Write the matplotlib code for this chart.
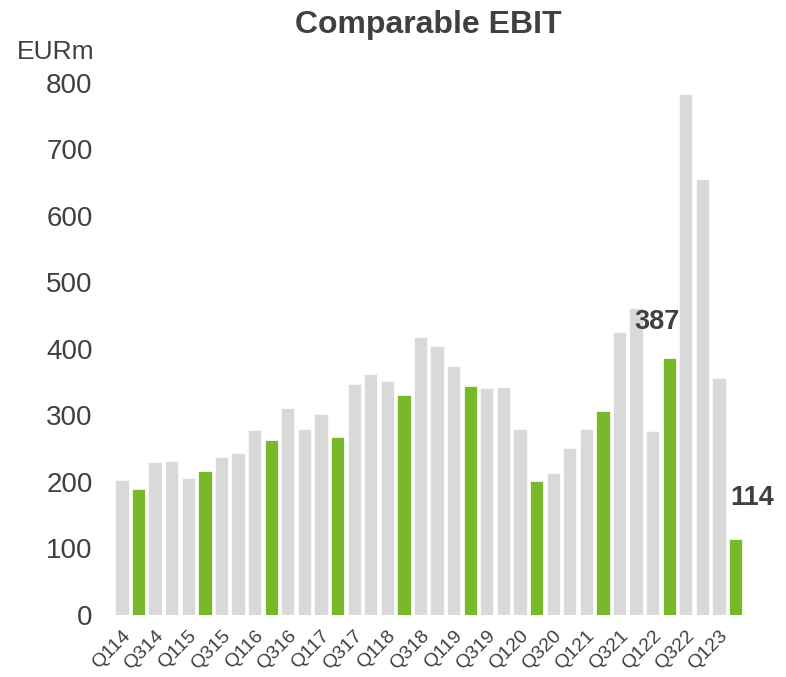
import numpy as np
import matplotlib.pyplot as plt

plt.rcParams['font.family'] = ['Liberation Sans', 'DejaVu Sans']

quarters = [f'Q{q}{y}' for y in range(14, 24) for q in range(1, 5)][:38]
ebit = [203, 190, 230, 231, 206, 216, 237, 244, 278, 263,
        311, 280, 302, 267, 348, 363, 352, 331, 418, 404,
        374, 345, 342, 343, 279, 202, 214, 251, 279, 307,
        425, 462, 276, 387, 783, 656, 356, 114]
highlight = ['Q2' in q for q in quarters]
labels = {33: '387', 37: '114'}

GREY = '#D9D9D9'
GREEN = '#78B92C'
TEXT = '#404040'

def plotChart(quarters, ebit):
    fig = plt.figure(figsize=(7.86, 6.77), dpi=100)
    ax = fig.add_axes([0.1425, 0.0916, 0.806, 0.7858])
    x = np.arange(len(quarters))
    colors = [GREEN if h else GREY for h in highlight]
    ax.bar(x, ebit, width=0.8, color=colors, edgecolor='white', linewidth=0.5)

    for i, txt in labels.items():
        off = (-9, 26) if i == 33 else (12, 30)
        ax.annotate(txt, (x[i], ebit[i]), xytext=off, textcoords='offset points',
                    ha='center', va='center', fontsize=19.5, fontweight='bold', color=TEXT)

    ax.set_xlim(-0.6, len(quarters) - 0.4)
    ax.set_ylim(0, 800)
    ax.set_yticks(range(0, 801, 100))
    ax.set_xticks(x[::2])
    ax.set_xticklabels(quarters[::2], rotation=45, ha='right', rotation_mode='anchor')
    ax.tick_params(axis='x', length=0, labelsize=14, colors=TEXT, pad=9)
    ax.tick_params(axis='y', length=0, labelsize=20, colors=TEXT, pad=14)
    for s in ax.spines.values():
        s.set_visible(False)

    ax.set_title('Comparable EBIT', fontsize=23, fontweight='bold', color=TEXT, pad=36)
    fig.text(0.022, 0.923, 'EURm', fontsize=19, color=TEXT, va='center')
    fig.savefig('out.png', dpi=100)

plotChart(quarters, ebit)
